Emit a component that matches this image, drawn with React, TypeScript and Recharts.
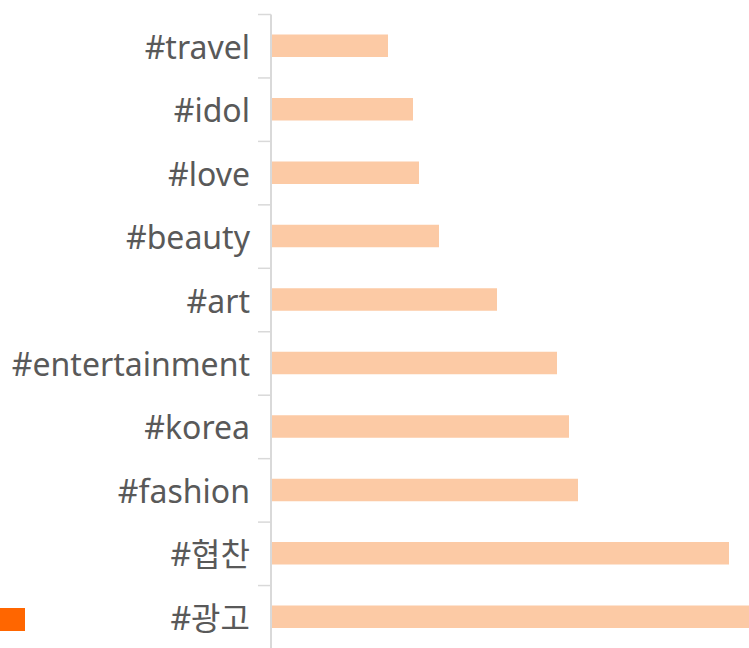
import { BarChart, Bar, XAxis, YAxis } from 'recharts';

const tags = [
  '#travel',
  '#idol',
  '#love',
  '#beauty',
  '#art',
  '#entertainment',
  '#korea',
  '#fashion',
  '#협찬',
  '#광고',
];

const usage = [117, 142, 148, 168, 226, 286, 298, 307, 458, 480];

const data = tags.map((tag, i) => ({ tag, usage: usage[i] }));

const CHART_H = 660;
const TOP = 14.5;
const BOTTOM = 11;
const BAND = (CHART_H - TOP - BOTTOM) / tags.length;

function TagTick(props: any) {
  const { x, y, payload } = props;
  return (
    <g>
      <line
        x1={x - 13 + 8}
        x2={x + 8}
        y1={y - BAND / 2}
        y2={y - BAND / 2}
        stroke="#d9d9d9"
        strokeWidth={1.5}
      />
      <text
        x={x - 13}
        y={y}
        textAnchor="end"
        dominantBaseline="central"
        fontSize={32}
        fill="#595959"
        fontFamily="'Noto Sans', 'Noto Sans CJK KR', sans-serif"
      >
        {payload.value}
      </text>
    </g>
  );
}

export default function App() {
  return (
    <div
      style={{
        position: 'absolute',
        left: 0,
        top: 0,
        width: 749,
        height: 648,
        overflow: 'hidden',
        background: '#fff',
      }}
    >
      <div
        style={{
          position: 'absolute',
          left: 0,
          top: 608,
          width: 25,
          height: 23,
          background: '#ff6600',
        }}
      />
      <BarChart
        width={760}
        height={CHART_H}
        data={data}
        layout="vertical"
        margin={{ top: TOP, right: 9, bottom: BOTTOM, left: 0 }}
        barSize={22.5}
      >
        <XAxis type="number" domain={[0, 480]} hide />
        <YAxis
          dataKey="tag"
          type="category"
          width={271}
          axisLine={{ stroke: '#d9d9d9', strokeWidth: 2 }}
          tickLine={false}
          tick={<TagTick />}
          interval={0}
        />
        <Bar dataKey="usage" fill="#fccaa5" isAnimationActive={false} />
      </BarChart>
    </div>
  );
}
